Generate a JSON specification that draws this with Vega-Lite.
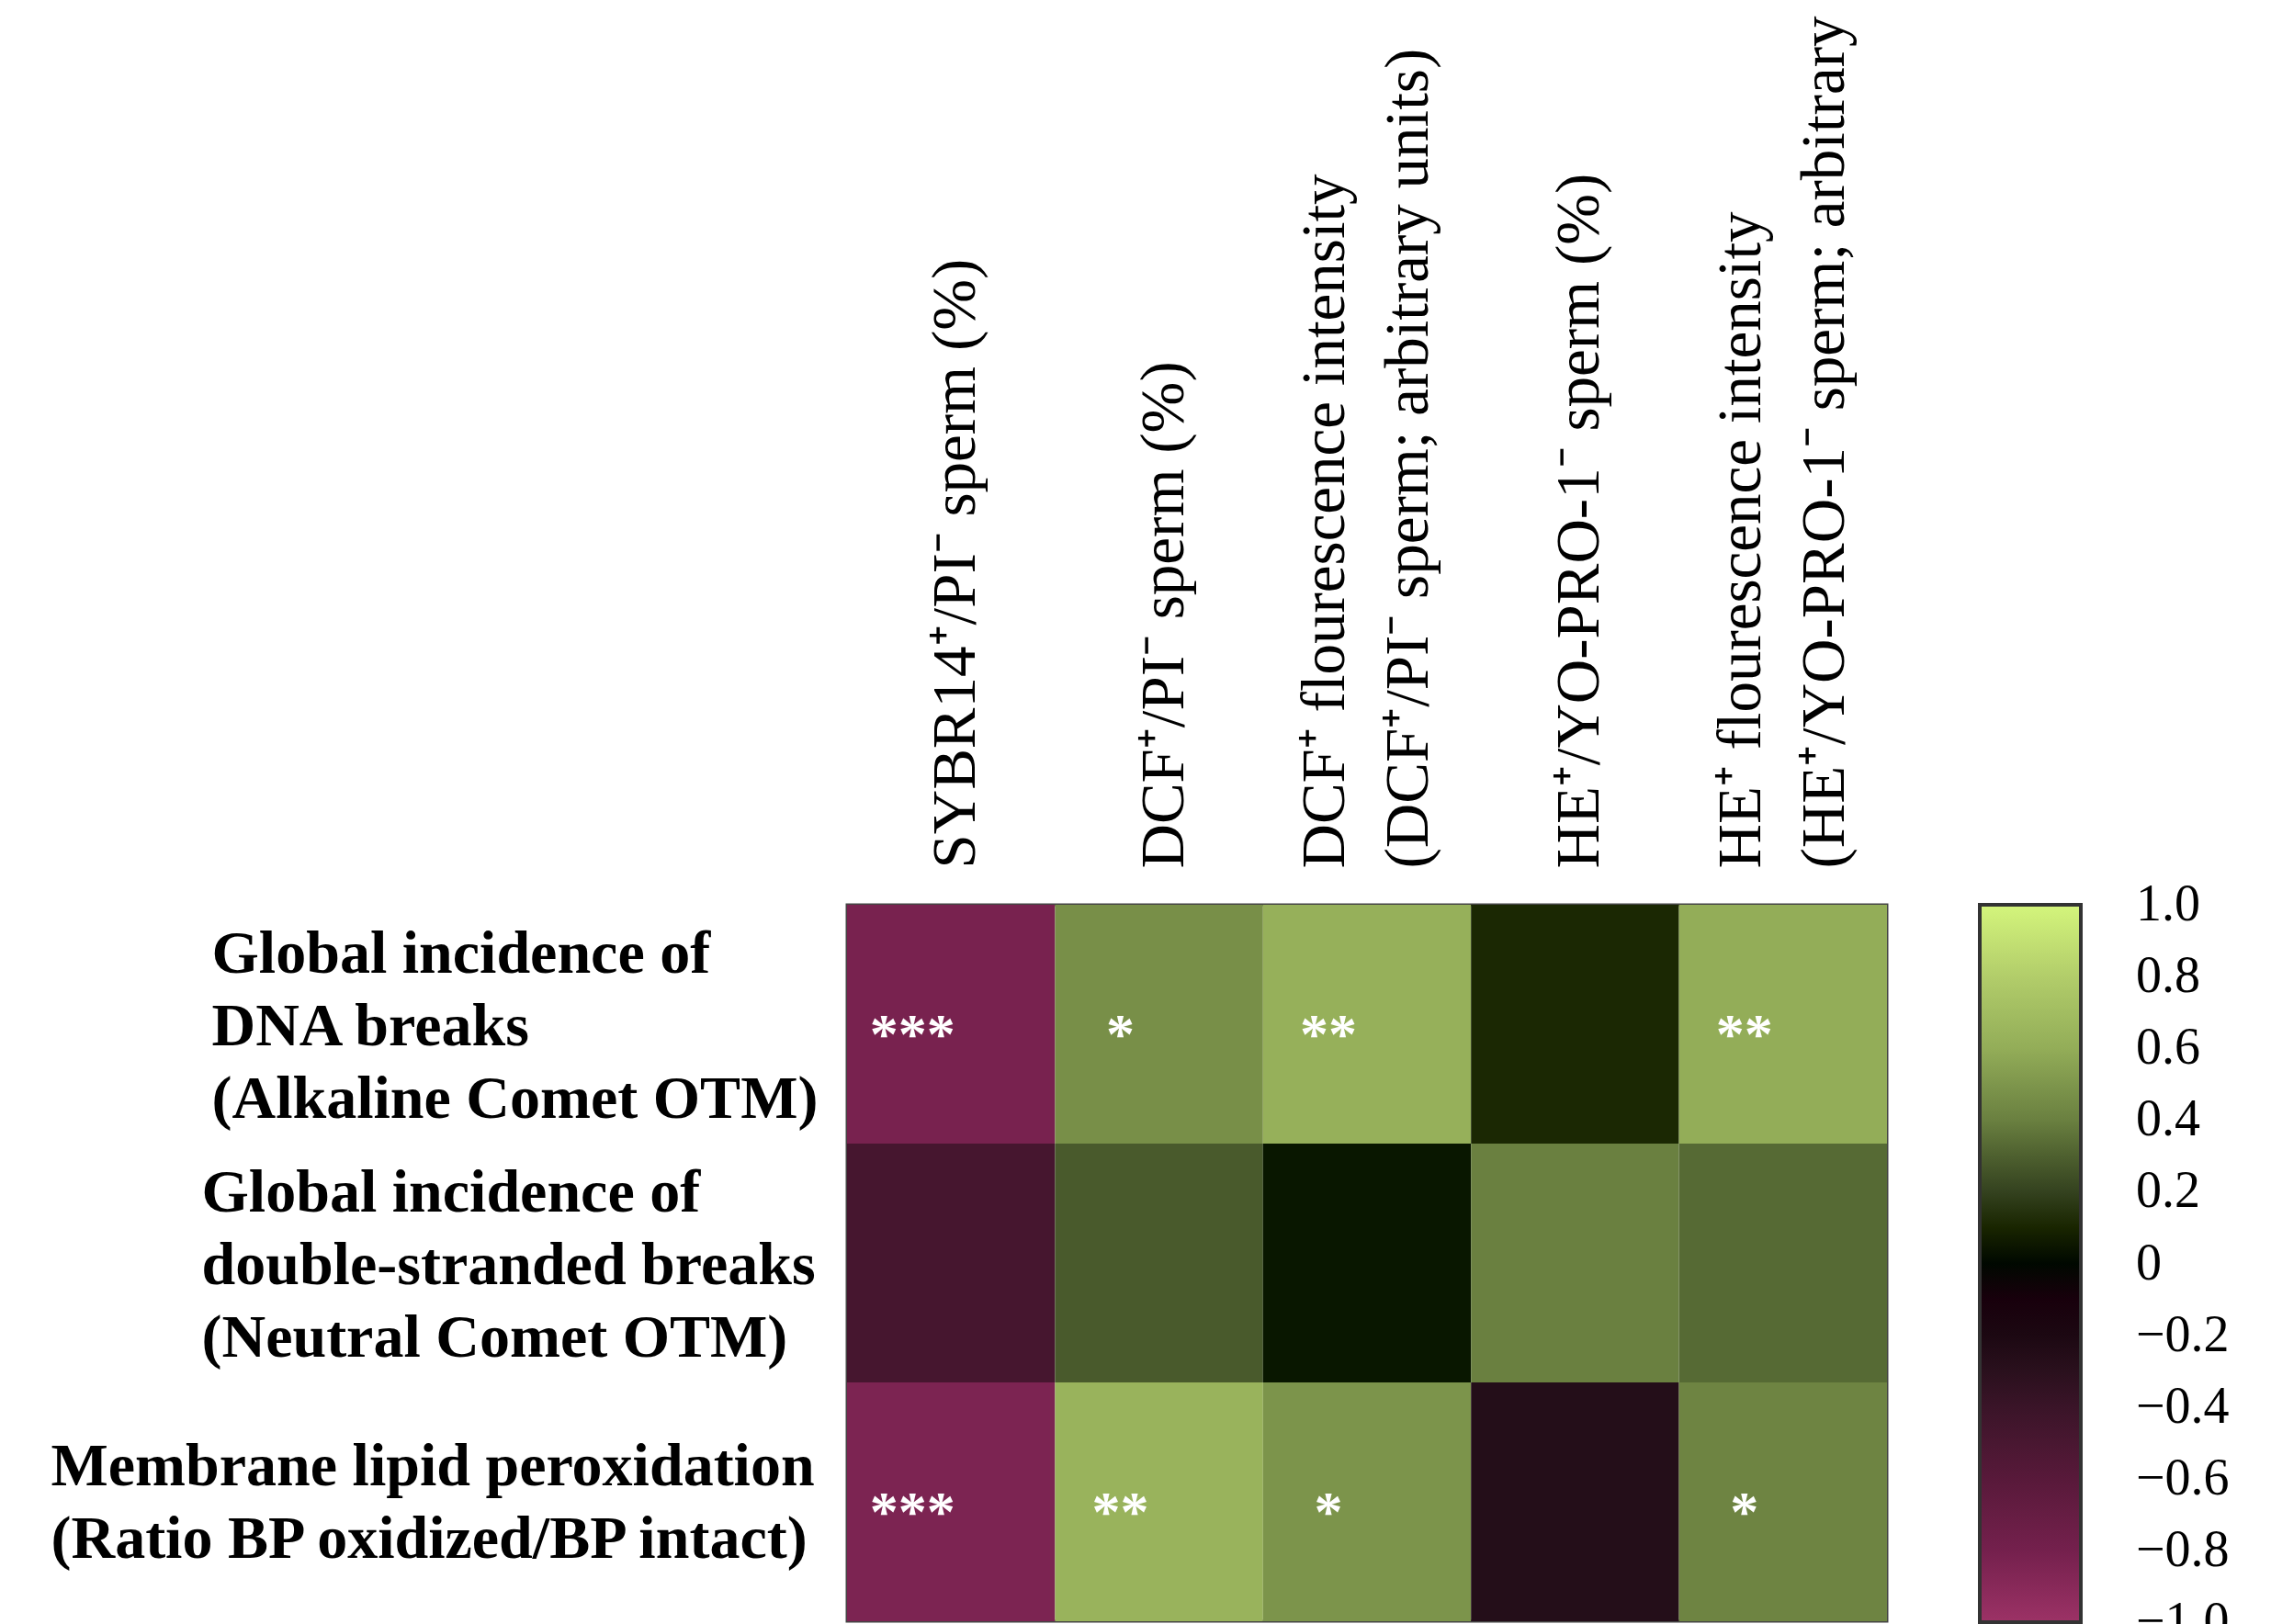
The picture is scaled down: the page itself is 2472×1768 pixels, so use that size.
{
  "$schema": "https://vega.github.io/schema/vega-lite/v6.json",
  "width": 1132,
  "height": 780,
  "autosize": {"type": "none"},
  "padding": {"left": 922, "top": 985, "right": 418, "bottom": 3},
  "background": "white",
  "config": {"view": {"stroke": "#444", "strokeWidth": 3}, "font": "Liberation Serif"},
  "data": {
    "values": [
      {"row": "Global incidence of|DNA breaks|(Alkaline Comet OTM)", "col": "SYBR14⁺/PI⁻ sperm (%)", "r": -0.82, "sig": "***"},
      {"row": "Global incidence of|DNA breaks|(Alkaline Comet OTM)", "col": "DCF⁺/PI⁻ sperm (%)", "r": 0.47, "sig": "*"},
      {"row": "Global incidence of|DNA breaks|(Alkaline Comet OTM)", "col": "DCF⁺ flourescence intensity|(DCF⁺/PI⁻ sperm; arbitrary units)", "r": 0.62, "sig": "**"},
      {"row": "Global incidence of|DNA breaks|(Alkaline Comet OTM)", "col": "HE⁺/YO-PRO-1⁻ sperm (%)", "r": 0.11, "sig": ""},
      {"row": "Global incidence of|DNA breaks|(Alkaline Comet OTM)", "col": "HE⁺ flourescence intensity|(HE⁺/YO-PRO-1⁻ sperm; arbitrary", "r": 0.6, "sig": "**"},
      {"row": "Global incidence of|double-stranded breaks|(Neutral Comet OTM)", "col": "SYBR14⁺/PI⁻ sperm (%)", "r": -0.48, "sig": ""},
      {"row": "Global incidence of|double-stranded breaks|(Neutral Comet OTM)", "col": "DCF⁺/PI⁻ sperm (%)", "r": 0.28, "sig": ""},
      {"row": "Global incidence of|double-stranded breaks|(Neutral Comet OTM)", "col": "DCF⁺ flourescence intensity|(DCF⁺/PI⁻ sperm; arbitrary units)", "r": 0.045, "sig": ""},
      {"row": "Global incidence of|double-stranded breaks|(Neutral Comet OTM)", "col": "HE⁺/YO-PRO-1⁻ sperm (%)", "r": 0.4, "sig": ""},
      {"row": "Global incidence of|double-stranded breaks|(Neutral Comet OTM)", "col": "HE⁺ flourescence intensity|(HE⁺/YO-PRO-1⁻ sperm; arbitrary", "r": 0.33, "sig": ""},
      {"row": "Membrane lipid peroxidation|(Ratio BP oxidized/BP intact)", "col": "SYBR14⁺/PI⁻ sperm (%)", "r": -0.84, "sig": "***"},
      {"row": "Membrane lipid peroxidation|(Ratio BP oxidized/BP intact)", "col": "DCF⁺/PI⁻ sperm (%)", "r": 0.64, "sig": "**"},
      {"row": "Membrane lipid peroxidation|(Ratio BP oxidized/BP intact)", "col": "DCF⁺ flourescence intensity|(DCF⁺/PI⁻ sperm; arbitrary units)", "r": 0.49, "sig": "*"},
      {"row": "Membrane lipid peroxidation|(Ratio BP oxidized/BP intact)", "col": "HE⁺/YO-PRO-1⁻ sperm (%)", "r": -0.26, "sig": ""},
      {"row": "Membrane lipid peroxidation|(Ratio BP oxidized/BP intact)", "col": "HE⁺ flourescence intensity|(HE⁺/YO-PRO-1⁻ sperm; arbitrary", "r": 0.42, "sig": "*"}
    ]
  },
  "encoding": {
    "x": {
      "field": "col", "type": "nominal", "sort": null,
      "axis": {
        "orient": "top", "title": null, "labelAngle": -90, "labelAlign": "left", "labelBaseline": "middle",
        "labelPadding": 40, "labelFontSize": 67, "labelLineHeight": 91, "labelFont": "Liberation Serif",
        "labelOffset": {"condition": {"test": "indexof(datum.value, '|') >= 0", "value": -45}, "value": 6},
        "labelColor": "black", "labelLimit": 0, "domain": false, "ticks": false, "labelOverlap": false,
        "labelExpr": "split(datum.value, '|')"
      }
    },
    "y": {
      "field": "row", "type": "nominal", "sort": null,
      "axis": {
        "title": null, "labelAlign": "left", "labelBaseline": "middle",
        "labelPadding": {"condition": [
          {"test": "indexof(datum.value, 'Membrane') === 0", "value": 867},
          {"test": "indexof(datum.value, 'double') >= 0", "value": 703}
        ], "value": 692},
        "labelOffset": {"condition": {"test": "indexof(datum.value, 'Membrane') === 0", "value": -38}, "value": -76},
        "labelFontSize": 66, "labelFontWeight": "bold", "labelLineHeight": 79, "labelFont": "Liberation Serif",
        "labelColor": "black", "labelLimit": 0, "domain": false, "ticks": false, "labelOverlap": false,
        "labelExpr": "split(datum.value, '|')"
      }
    }
  },
  "layer": [
    {
      "mark": {"type": "rect"},
      "encoding": {
        "color": {
          "field": "r", "type": "quantitative",
          "scale": {
            "domain": [-1, -0.8, -0.6, -0.4, -0.2, 0, 0.2, 0.4, 0.6, 0.8, 1],
            "range": ["#9c3266", "#74204d", "#58193a", "#3a1428", "#1c0812", "#000000", "#34421f", "#6a8040", "#93ad58", "#b2cd6a", "#d4f57c"]
          },
          "legend": {
            "title": null, "orient": "right", "offset": 101, "direction": "vertical", "padding": 0,
            "gradientLength": 781, "gradientThickness": 110, "gradientStrokeColor": "#333", "gradientStrokeWidth": 4,
            "values": [0.9999, 0.8, 0.6, 0.4, 0.2, 0, -0.2, -0.4, -0.6, -0.8, -0.9999],
            "labelExpr": "datum.value === 0 ? '0' : format(datum.value, '.1f')",
            "labelFontSize": 56, "labelFont": "Liberation Serif", "labelColor": "black", "labelOffset": 60,
            "labelOverlap": false, "labelBaseline": "middle"
          }
        }
      }
    },
    {
      "mark": {"type": "text", "color": "white", "fontSize": 62, "fontWeight": "bold", "font": "Liberation Serif", "dx": -42, "dy": 12, "baseline": "middle", "align": "center"},
      "encoding": {"text": {"field": "sig"}}
    }
  ]
}
